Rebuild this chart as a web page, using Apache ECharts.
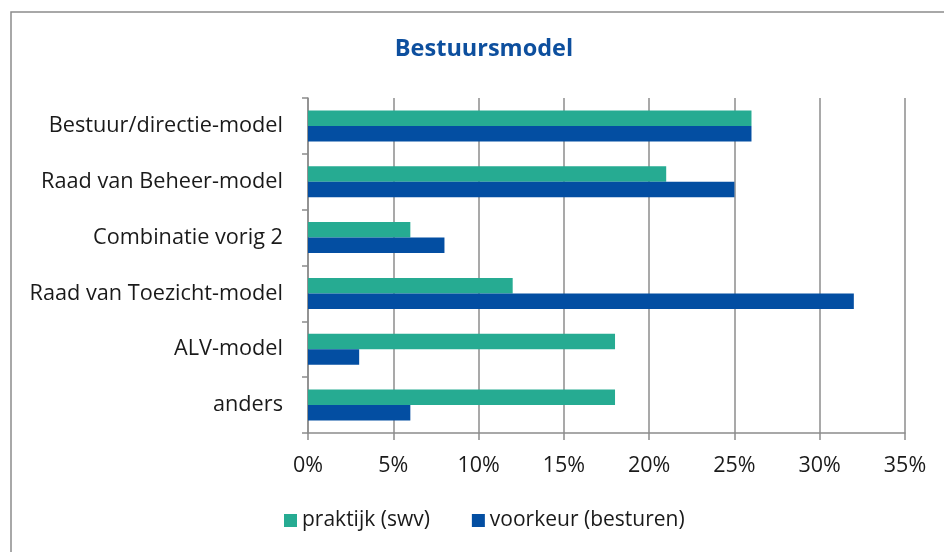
<!DOCTYPE html>
<html>
<head>
<meta charset="utf-8">
<script src="https://cdn.jsdelivr.net/npm/echarts@6/dist/echarts.min.js"></script>
<style>
  html, body { margin: 0; padding: 0; background: #fff; }
  #chart { width: 944px; height: 552px; }
</style>
</head>
<body>
<div id="chart"></div>
<script>
// categorieën van boven naar beneden
var categories = ['Bestuur/directie-model', 'Raad van Beheer-model', 'Combinatie vorig 2', 'Raad van Toezicht-model', 'ALV-model', 'anders'];
var praktijk = [26, 21, 6, 12, 18, 18];   // praktijk (swv)
var voorkeur = [26, 25, 8, 32, 3, 6];     // voorkeur (besturen)
var seriesNames = ['praktijk (swv)', 'voorkeur (besturen)'];

var font = 'Open Sans';
var grey = '#8c8c8c';

var chart = echarts.init(document.getElementById('chart'));
chart.setOption({
  animation: false,
  textStyle: { fontFamily: font },
  title: {
    text: 'Bestuursmodel',
    left: 479, top: 32, textAlign: 'center',
    textStyle: { fontFamily: font, fontSize: 23.5, fontWeight: 'bold', color: '#0d4f9e' }
  },
  graphic: [{
    type: 'polyline',
    shape: { points: [[11, 560], [11, 12], [950, 12]] },
    style: { stroke: grey, lineWidth: 1.5, fill: null }
  }],
  legend: {
    left: 279, top: 505,
    icon: 'rect', itemWidth: 13, itemHeight: 13, itemGap: 42, itemTextGap: 7,
    textStyle: { fontFamily: font, fontSize: 21, color: '#1a1a1a' },
    data: seriesNames
  },
  grid: { left: 308, right: 39, top: 98, bottom: 119 },
  xAxis: {
    type: 'value', min: 0, max: 35, interval: 5,
    axisLine: { show: true, lineStyle: { color: grey, width: 1.5 } },
    axisTick: { show: true, length: 7, lineStyle: { color: grey, width: 1.5 } },
    axisLabel: { formatter: '{value}%', margin: 22, fontFamily: font, fontSize: 21.5, color: '#1a1a1a' },
    splitLine: { show: true, lineStyle: { color: grey, width: 1.5 } }
  },
  yAxis: {
    type: 'category', data: categories, inverse: true,
    axisLine: { show: true, lineStyle: { color: grey, width: 1.5 } },
    axisTick: { show: true, length: 6, lineStyle: { color: grey, width: 1.5 } },
    axisLabel: { margin: 25, fontFamily: font, fontSize: 21.7, color: '#1a1a1a' }
  },
  series: [
    { name: seriesNames[0], type: 'bar', data: praktijk, barWidth: 15.5, barGap: '0%', itemStyle: { color: '#26ab92' } },
    { name: seriesNames[1], type: 'bar', data: voorkeur, barWidth: 15.5, itemStyle: { color: '#034ea2' } }
  ]
});
</script>
</body>
</html>
